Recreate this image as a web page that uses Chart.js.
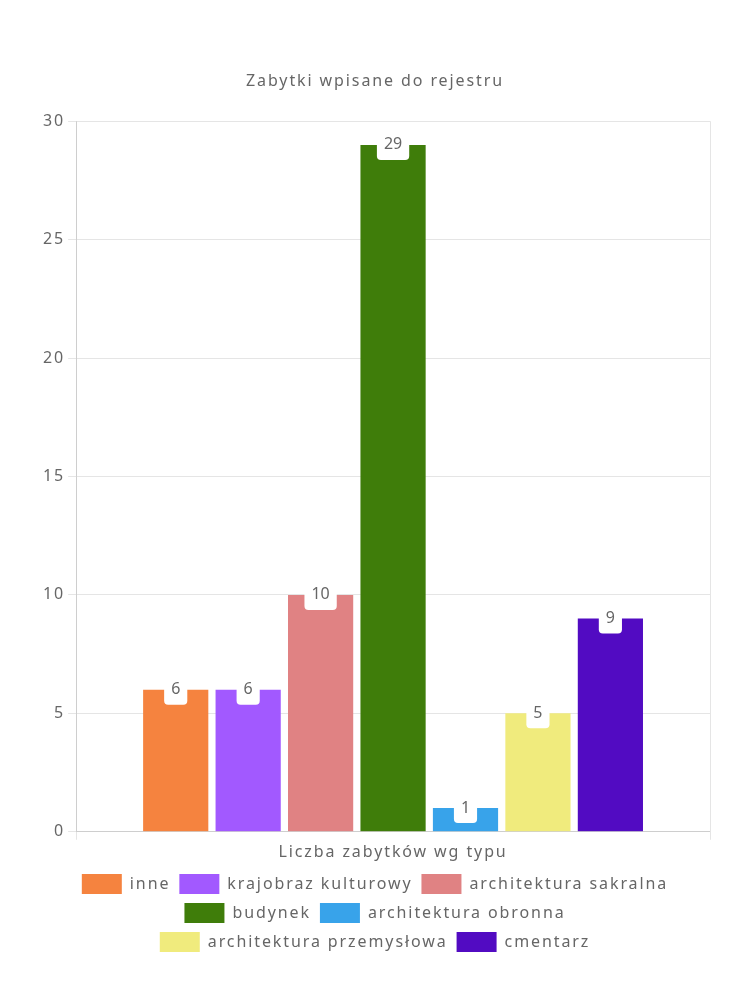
<!DOCTYPE html>
<html>
<head>
<meta charset="utf-8">
<script src="https://cdn.jsdelivr.net/npm/chart.js@4/dist/chart.umd.min.js"></script>
<style>
  html, body { margin: 0; padding: 0; background: #fff; }
  #wrap { width: 750px; height: 1000px; }
</style>
</head>
<body>
<div id="wrap"><canvas id="chart"></canvas></div>
<script>
var categories = ['Liczba zabytków wg typu'];
var seriesNames = ['inne', 'krajobraz kulturowy', 'architektura sakralna', 'budynek', 'architektura obronna', 'architektura przemysłowa', 'cmentarz'];
var seriesValues = [6, 6, 10, 29, 1, 5, 9];
var seriesColors = ['#f5833f', '#a259ff', '#e08283', '#3f7d0a', '#38a3ea', '#f0eb7d', '#520bc2'];
var yTicks = [0, 5, 10, 15, 20, 25, 30];

var FONT = '"Noto Sans", sans-serif';
var LETTER = '1.9px';
Chart.defaults.font.family = FONT;
Chart.defaults.color = '#666';

// the original uses a wide rounded font, a bit of spacing gets close to its widths
var spacing = {
  id: 'spacing',
  beforeInit: function (chart) { chart.ctx.letterSpacing = LETTER; },
  beforeUpdate: function (chart) { chart.ctx.letterSpacing = LETTER; },
  beforeDraw: function (chart) { chart.ctx.letterSpacing = LETTER; }
};

// white rounded box with the value, centred on top of each bar
var valueLabels = {
  id: 'valueLabels',
  afterDatasetsDraw: function (chart) {
    var ctx = chart.ctx;
    ctx.save();
    ctx.letterSpacing = '0px';
    ctx.font = '16px ' + FONT;
    ctx.textAlign = 'center';
    ctx.textBaseline = 'middle';
    chart.data.datasets.forEach(function (ds, i) {
      var meta = chart.getDatasetMeta(i);
      meta.data.forEach(function (bar, j) {
        var txt = String(ds.data[j]);
        var w = ctx.measureText(txt).width + 14;
        var h = 30;
        ctx.fillStyle = '#fff';
        ctx.beginPath();
        ctx.roundRect(bar.x - w / 2, bar.y - h / 2, w, h, 4);
        ctx.fill();
        ctx.fillStyle = '#666';
        ctx.fillText(txt, bar.x, bar.y);
      });
    });
    ctx.restore();
  }
};

var datasets = seriesNames.map(function (name, i) {
  return {
    label: name,
    data: [seriesValues[i]],
    backgroundColor: seriesColors[i],
    borderColor: seriesColors[i],
    borderWidth: 0
  };
});

new Chart(document.getElementById('chart'), {
  type: 'bar',
  data: { labels: categories, datasets: datasets },
  plugins: [spacing, valueLabels],
  options: {
    responsive: true,
    maintainAspectRatio: false,
    animation: false,
    layout: { padding: { top: 62, left: 40, right: 40, bottom: 38 } },
    plugins: {
      title: {
        display: true,
        text: 'Zabytki wpisane do rejestru',
        font: { size: 16, weight: 'normal' },
        color: '#666',
        padding: { top: 10, bottom: 30 }
      },
      legend: {
        position: 'bottom',
        labels: { font: { size: 16 }, boxWidth: 40, boxHeight: 20, padding: 9, color: '#666' }
      },
      tooltip: { enabled: false }
    },
    scales: {
      x: {
        grid: { color: 'rgba(0,0,0,0.1)' },
        ticks: { font: { size: 16 }, color: '#666' }
      },
      y: {
        min: 0,
        max: 30,
        afterBuildTicks: function (axis) {
          axis.ticks = yTicks.map(function (v) { return { value: v }; });
        },
        grid: { color: 'rgba(0,0,0,0.1)' },
        ticks: { font: { size: 16 }, color: '#666' }
      }
    }
  }
});
</script>
</body>
</html>
